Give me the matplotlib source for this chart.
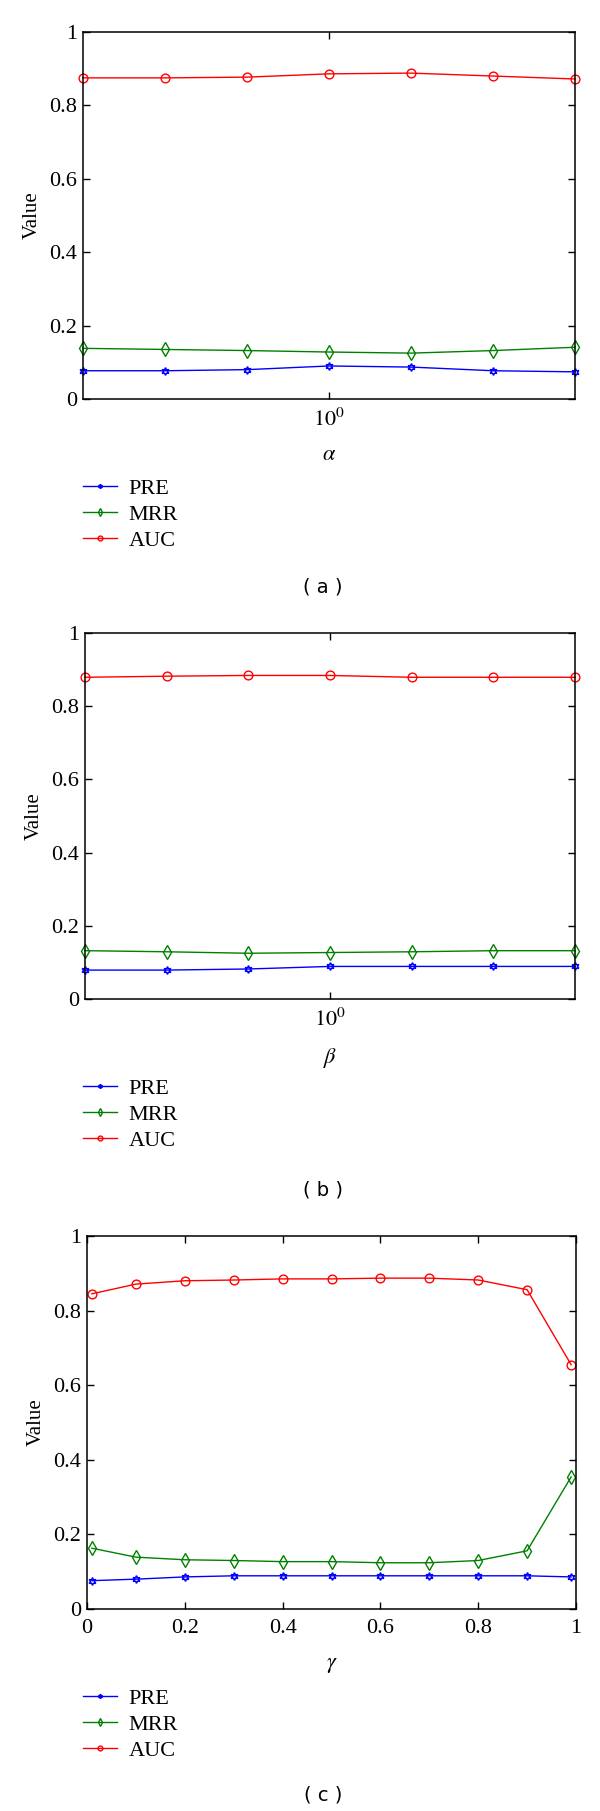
import numpy as np
import matplotlib
matplotlib.use("Agg")
from matplotlib import pyplot as plt

plt.rcParams['font.family'] = ['Liberation Serif', 'DejaVu Serif']
plt.rcParams['mathtext.fontset'] = 'stix'

#Data
x_ab = [0.125, 0.25, 0.5, 1, 2, 4, 8]
pre_a = [0.077, 0.077, 0.080, 0.090, 0.087, 0.077, 0.074]
mrr_a = [0.138, 0.135, 0.132, 0.128, 0.125, 0.132, 0.141]
auc_a = [0.875, 0.875, 0.877, 0.886, 0.888, 0.880, 0.872]

pre_b = [0.079, 0.079, 0.082, 0.089, 0.089, 0.089, 0.089]
mrr_b = [0.132, 0.129, 0.125, 0.127, 0.129, 0.132, 0.132]
auc_b = [0.879, 0.882, 0.884, 0.884, 0.879, 0.879, 0.879]

x_c = [0.01, 0.1, 0.2, 0.3, 0.4, 0.5, 0.6, 0.7, 0.8, 0.9, 0.99]
pre_c = [0.076, 0.080, 0.086, 0.089, 0.089, 0.089, 0.089, 0.089, 0.089, 0.089, 0.086]
mrr_c = [0.163, 0.139, 0.132, 0.130, 0.127, 0.127, 0.124, 0.124, 0.130, 0.156, 0.354]
auc_c = [0.845, 0.871, 0.880, 0.882, 0.885, 0.885, 0.887, 0.887, 0.882, 0.856, 0.655]

yticks = [0, 0.2, 0.4, 0.6, 0.8, 1]
ytick_labels = ['0', '0.2', '0.4', '0.6', '0.8', '1']
xticks_c = [0, 0.2, 0.4, 0.6, 0.8, 1]
xtick_labels_c = ['0', '0.2', '0.4', '0.6', '0.8', '1']
series_names = ['PRE', 'MRR', 'AUC']

W, H = 600.0, 1811.0
fig = plt.figure(figsize=(6, 18.11), dpi=100)

hexagram = (6, 1, 0)

def panel(left, top, right, bottom, x, pre, mrr, auc, xlab, logx, legend_top, tag_y, tag):
    ax = fig.add_axes([left/W, 1-bottom/H, (right-left)/W, (bottom-top)/H])
    l1, = ax.plot(x, pre, color='#0000ff', lw=1.0, marker=hexagram, ms=5.5,
                  mfc='none', mec='#0000ff', mew=1.1)
    l2, = ax.plot(x, mrr, color='#008000', lw=1.0, marker='d', ms=7.2,
                  mfc='none', mec='#008000', mew=1.0)
    l3, = ax.plot(x, auc, color='#ff0000', lw=1.0, marker='o', ms=6.3,
                  mfc='none', mec='#ff0000', mew=1.0)
    for l in (l1, l2, l3):
        l.set_clip_on(False)
    if logx:
        ax.set_xscale('log')
        ax.set_xlim(x[0], x[-1])
        ax.set_xticks([1])
        ax.set_xticklabels(['$10^0$'])
        ax.xaxis.set_minor_locator(matplotlib.ticker.NullLocator())
    else:
        ax.set_xlim(0, 1)
        ax.set_xticks(xticks_c)
        ax.set_xticklabels(xtick_labels_c)
    ax.set_ylim(0, 1)
    ax.set_yticks(yticks)
    ax.set_yticklabels(ytick_labels)
    ax.tick_params(direction='in', length=5, width=1, top=True, right=True,
                   labelsize=16)
    ax.tick_params(axis='y', pad=4)
    ax.tick_params(axis='x', pad=7)
    for s in ax.spines.values():
        s.set_linewidth(1.1)
    ax.set_ylabel('Value', fontsize=15)
    ax.yaxis.set_label_coords(-41.0/(right-left), 0.5)
    ax.set_xlabel(xlab, fontsize=16)
    ax.xaxis.set_label_coords(0.5, -47.0/(bottom-top))
    fig.legend([l1, l2, l3], series_names, loc='upper left',
               bbox_to_anchor=(83/W, 1-legend_top/H), frameon=False,
               fontsize=16, borderpad=0, borderaxespad=0, handlelength=1.55,
               handletextpad=0.5, labelspacing=0.25, markerscale=0.55)
    fig.text(323/W, 1-tag_y/H, tag, family='DejaVu Sans', fontsize=14,
             ha='center', va='center')
    return ax

panel(83, 32, 575, 399, x_ab, pre_a, mrr_a, auc_a, r'$\alpha$', True, 478, 587, '( a )')
panel(85, 633, 575, 999, x_ab, pre_b, mrr_b, auc_b, r'$\beta$', True, 1078, 1190, '( b )')
panel(87, 1236, 576, 1609, x_c, pre_c, mrr_c, auc_c, r'$\gamma$', False, 1688, 1795, '( c )')

fig.savefig('out.png', dpi=100)
